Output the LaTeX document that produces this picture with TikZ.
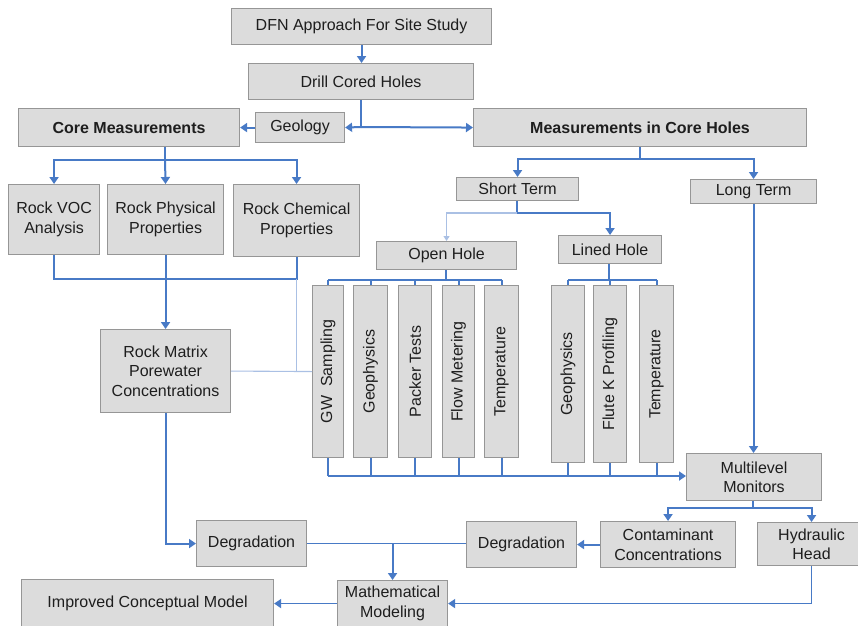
\documentclass[tikz,border=0pt]{standalone}
\usepackage{fontspec}
\setmainfont{Liberation Sans}
\usepackage{graphicx}
\usetikzlibrary{arrows.meta}
\definecolor{flowblue}{RGB}{72,122,198}
\definecolor{lightblue}{RGB}{170,192,228}
\definecolor{boxfill}{RGB}{220,220,220}
\definecolor{boxline}{RGB}{150,150,150}
\definecolor{txt}{RGB}{30,30,30}
\tikzset{
  gbox/.style={draw=boxline, fill=boxfill, line width=1.1pt, inner sep=0pt,
    anchor=north west, align=center, text=txt,
    font=\fontsize{16}{19.5}\selectfont},
  bolder/.style={font=\fontsize{16}{19.5}\selectfont\bfseries},
  link/.style={draw=flowblue, line width=2pt},
  slim/.style={draw=flowblue, line width=1.6pt},
  arr/.style={link, -{Triangle[length=7pt,width=9pt]}},
  slimarr/.style={slim, -{Triangle[length=7pt,width=9pt]}},
  thin/.style={draw=lightblue, line width=1.1pt},
  thinarr/.style={thin, -{Triangle[length=5pt,width=6pt]}},
}
\newcommand\mybox[7][]{\node[gbox,#1,minimum width=#5pt,minimum height=#6pt] (#2) at (#3,#4) {#7};}
\begin{document}
\begin{tikzpicture}[x=1pt,y=-1pt]
\fill[white] (0,0) rectangle (858,625);
\useasboundingbox (0,0) rectangle (858,625);
% boxes
\mybox{dfn}{231}{8}{260}{36}{DFN Approach For Site Study}
\mybox{drill}{248}{63}{225}{36}{Drill Cored Holes}
\mybox{geo}{255}{112}{89}{30}{Geology}
\mybox[bolder]{core}{18}{108}{221}{38}{Core Measurements}
\mybox[bolder]{mch}{473}{108}{333}{38}{Measurements in Core Holes}
\mybox{voc}{8}{184}{91}{70}{Rock VOC\\Analysis}
\mybox{phys}{107}{184}{116}{70}{Rock Physical\\Properties}
\mybox{chem}{233}{184}{126}{72}{Rock Chemical\\Properties}
\mybox{matrix}{100}{329}{130}{83}{Rock Matrix\\Porewater\\Concentrations}
\mybox{short}{456}{177}{122}{23}{Short Term}
\mybox{long}{690}{179}{126}{24}{Long Term}
\mybox{open}{376}{241}{140}{28}{Open Hole}
\mybox{lined}{558}{235}{103}{28}{Lined Hole}
\mybox{gw}{312}{285}{31}{172}{\rotatebox{90}{GW~ Sampling}}
\mybox{geoA}{353}{285}{34}{172}{\rotatebox{90}{Geophysics}}
\mybox{pack}{398}{285}{33}{172}{\rotatebox{90}{Packer Tests}}
\mybox{flow}{442}{285}{32}{172}{\rotatebox{90}{Flow Metering}}
\mybox{tempA}{484}{285}{34}{172}{\rotatebox{90}{Temperature}}
\mybox{geoB}{551}{285}{33}{177}{\rotatebox{90}{Geophysics}}
\mybox{flute}{593}{285}{33}{177}{\rotatebox{90}{Flute K Profiling}}
\mybox{tempB}{639}{285}{34}{177}{\rotatebox{90}{Temperature}}
\mybox{multi}{686}{453}{135}{47}{Multilevel\\Monitors}
\mybox{cont}{600}{521}{135}{46}{Contaminant\\Concentrations}
\mybox{hyd}{757}{522}{108}{43}{Hydraulic\\Head}
\mybox{deg2}{466}{521}{110}{46}{Degradation}
\mybox{deg1}{196}{520}{110}{46}{Degradation}
\mybox{math}{337}{580}{110}{46}{Mathematical\\Modeling}
\mybox{imp}{21}{579}{252}{48}{Improved Conceptual Model}
% junctions
\coordinate (j1) at (361,127);
\coordinate (cb) at (165,160);
\coordinate (mb) at (165,279);
\coordinate (mc) at (640,159);
\coordinate (sc) at (517,213);
\coordinate (oc) at (446,280);
\coordinate (lc) at (609,280);
\coordinate (bc) at (327,476);
\coordinate (mm) at (753,508);
% top
\draw[arr] (dfn.south) -- (dfn.south |- drill.north);
\draw[link] (drill.south -| j1) -- (j1);
\draw[arr] (j1) -- (geo.east);
\draw[arr] (j1) -- (mch.west);
\draw[arr] (geo.west) -- (core.east);
% core measurements
\draw[link] (cb |- core.south) -- (cb);
\draw[arr] (cb) -| (voc.north);
\draw[arr] (cb) -| (chem.north);
\draw[arr] (cb) -- (phys.north);
\draw[link] (voc.south) |- (chem.south |- mb) -- (chem.south);
\draw[arr] (phys.south) -- (matrix.north);
\draw[thin] (chem.south |- mb) -- (chem.south |- matrix.east);
\draw[thin] (matrix.east) -- (gw.west);
\draw[arr] (matrix.south) |- (deg1.west);
% measurements in core holes
\draw[link] (mch.south -| mc) -- (mc);
\draw[arr] (mc) -| (short.north);
\draw[arr] (mc) -| (long.north);
\draw[link] (short.south -| sc) -- (sc);
\draw[arr] (sc) -| (lined.north);
\draw[thinarr] (sc) -| (open.north);
% open hole
\draw[link] (open.south -| oc) -- (oc);
\draw[link] (gw.north |- oc) -- (tempA.north |- oc);
\foreach \n in {gw,geoA,pack,flow,tempA}{\draw[link] (\n.north |- oc) -- (\n.north);}
% lined hole
\draw[link] (lined.south -| lc) -- (lc);
\draw[link] (geoB.north |- lc) -- (tempB.north |- lc);
\foreach \n in {geoB,flute,tempB}{\draw[link] (\n.north |- lc) -- (\n.north);}
% collector to multilevel
\foreach \n in {gw,geoA,pack,flow,tempA,geoB,flute,tempB}{\draw[link] (\n.south) -- (\n.south |- bc);}
\draw[arr] (gw.south |- bc) -- (multi.west |- bc);
\draw[arr] (long.south) -- (long.south |- multi.north);
% multilevel branches
\draw[link] (multi.south -| mm) -- (mm);
\draw[arr] (mm) -| (cont.north);
\draw[arr] (mm) -| (hyd.north);
\draw[arr] (cont.west) -- (deg2.east);
\draw[slim] (deg1.east) -- (deg2.west |- deg1.east);
\draw[arr] (math.north |- deg1.east) -- (math.north);
\draw[slimarr] (hyd.south) |- (math.east);
\draw[slimarr] (math.west) -- (imp.east);
\end{tikzpicture}
\end{document}
